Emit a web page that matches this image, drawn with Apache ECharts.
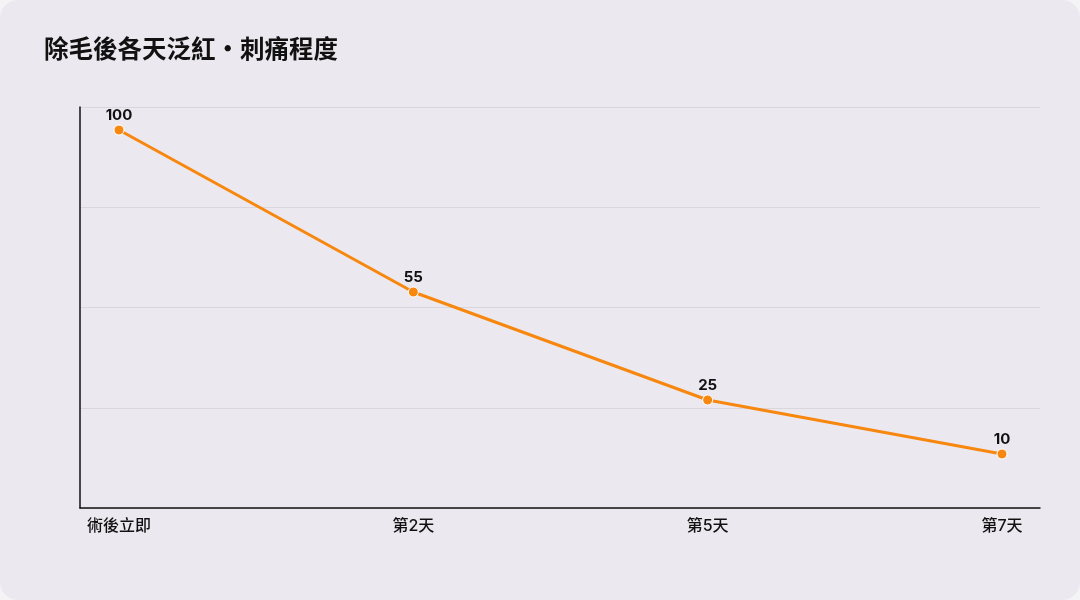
<!DOCTYPE html>
<html>
<head>
<meta charset="utf-8">
<script src="https://cdn.jsdelivr.net/npm/echarts@6/dist/echarts.min.js"></script>
<style>
    html, body { margin: 0; padding: 0; background: #f4f4f6; }
    #chart { width: 1080px; height: 600px; background: #ebe9ef; border-radius: 18px; }
</style>
</head>
<body>
<div id="chart"></div>
<script>
// 各天程度
const days = ['術後立即', '第2天', '第5天', '第7天'];
const levels = [100, 55, 25, 10];
const frameTicks = [0, 1, 2, 3, 4];

const fontFamily = 'Inter, "Noto Sans CJK TC", "Noto Sans", sans-serif';
const myChart = echarts.init(document.getElementById('chart'));

const option = {
    backgroundColor: 'transparent',
    animation: false,
    title: {
        text: '除毛後各天泛紅・刺痛程度',
        left: 39,
        top: 33,
        textStyle: {
            fontFamily,
            fontSize: 24.5,
            fontWeight: 'bold',
            color: '#111',
        },
    },
    grid: [
        // 框線與格線
        { left: 80, right: 40, top: 107, bottom: 92 },
        // 資料
        { left: 119, right: 78, top: 107, bottom: 92 },
    ],
    xAxis: [
        {
            gridIndex: 0,
            type: 'value',
            min: 0,
            max: 1,
            axisLine: { show: true, lineStyle: { color: '#111', width: 1.5 } },
            axisTick: { show: false },
            axisLabel: { show: false },
            splitLine: { show: false },
        },
        {
            gridIndex: 1,
            type: 'category',
            boundaryGap: false,
            data: days,
            axisLine: { show: false },
            axisTick: { show: false },
            axisLabel: {
                margin: 10,
                fontFamily,
                fontSize: 16,
                fontWeight: 500,
                color: '#111',
            },
        },
    ],
    yAxis: [
        {
            gridIndex: 0,
            type: 'value',
            min: frameTicks[0],
            max: frameTicks[frameTicks.length - 1],
            interval: 1,
            axisLine: { show: true, lineStyle: { color: '#111', width: 1.5 } },
            axisTick: { show: false },
            axisLabel: { show: false },
            splitLine: { show: true, lineStyle: { color: '#d9d7dd', width: 1 } },
        },
        {
            gridIndex: 1,
            type: 'value',
            min: -5,
            max: 106.4,
            show: false,
            splitLine: { show: false },
        },
    ],
    series: [
        {
            type: 'line',
            xAxisIndex: 1,
            yAxisIndex: 1,
            data: levels,
            symbol: 'circle',
            symbolSize: 10,
            lineStyle: { color: '#f7870f', width: 3 },
            itemStyle: { color: '#f7870f', borderColor: '#fff', borderWidth: 1 },
            label: {
                show: true,
                position: 'top',
                distance: 2,
                fontFamily,
                fontSize: 15,
                fontWeight: 'bold',
                color: '#111',
            },
        },
    ],
};
myChart.setOption(option);
</script>
</body>
</html>
